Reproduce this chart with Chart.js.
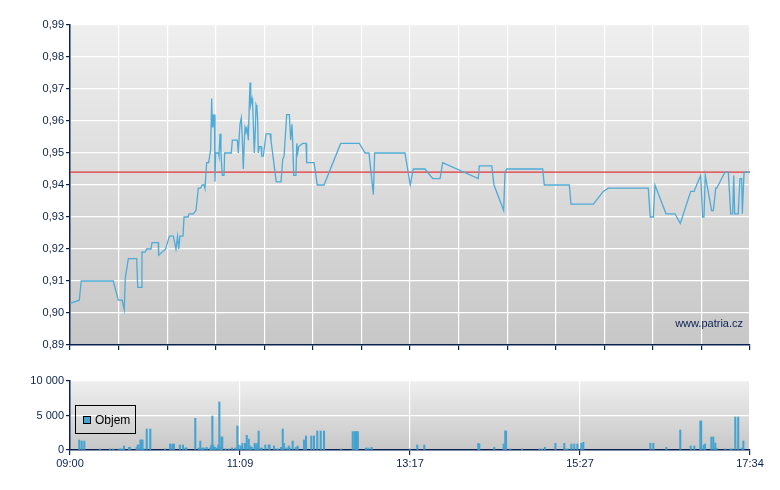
<!DOCTYPE html>
<html>
<head>
<meta charset="utf-8">
<title>Cena a objem</title>
<script src="https://cdn.jsdelivr.net/npm/chart.js@4.4.1/dist/chart.umd.min.js"></script>
<style>
body { margin: 0; background: #fff; }
#wrap { position: relative; width: 780px; height: 490px; }
#priceChart { position: absolute; left: 0; top: 0; }
#volumeChart { position: absolute; left: 0; top: 360px; }
</style>
</head>
<body>
<div id="wrap">
  <canvas id="priceChart" width="780" height="360"></canvas>
  <canvas id="volumeChart" width="780" height="130"></canvas>
</div>
<script>
// session runs 09:00 - 17:34, time is in minutes since 09:00
const sessionEnd = 514;
const prevClose = 0.944;

const priceTimes = [
  0, 7.0, 8.5, 32.7, 36.5, 39.5, 41.0, 41.8, 44.1, 50.4, 51.2, 53.7, 54.4, 56.9, 58.0, 61.2,
  62.0, 66.7, 67.0, 72.3, 75.1, 78.1, 80.1, 81.3, 82.2, 83.1, 85.4, 86.2, 89.2, 90.0, 93.2, 95.2,
  97.0, 98.8, 99.8, 101.3, 102.0, 103.3, 104.8, 106.3, 107.1, 107.6, 108.3, 108.8, 109.2, 109.6, 110.1, 112.1,
  112.6, 113.4, 114.1, 115.1, 116.4, 116.9, 121.9, 122.7, 126.5, 127.2, 128.5, 129.5, 130.2, 131.0, 131.7, 132.3,
  133.0, 133.8, 134.8, 135.5, 136.1, 136.6, 137.6, 138.1, 139.3, 140.1, 140.6, 141.3, 141.9, 142.3, 143.1, 144.4,
  144.9, 146.1, 148.2, 151.2, 151.9, 155.9, 159.5, 160.8, 161.8, 163.8, 165.8, 166.8, 167.8, 168.3, 169.1, 170.8,
  171.4, 172.1, 172.9, 175.9, 178.4, 178.9, 184.4, 185.2, 186.9, 192.0, 204.6, 218.7, 223.0, 226.0, 229.3, 230.3,
  253.2, 257.2, 259.5, 268.3, 274.2, 279.7, 281.7, 308.6, 309.4, 318.8, 320.5, 327.8, 328.8, 330.1, 357.3, 358.5,
  377.4, 378.7, 395.6, 403.1, 406.9, 437.1, 438.6, 440.9, 442.2, 442.9, 450.5, 457.3, 461.3, 469.2, 471.7, 473.7,
  476.7, 478.2, 479.2, 480.2, 485.0, 486.3, 488.1, 488.8, 495.1, 497.6, 499.4, 500.9, 501.7, 502.4, 505.1, 506.4,
  507.7, 508.2, 509.5, 514
];
const prices = [
  0.903, 0.904, 0.910, 0.910, 0.904, 0.904, 0.901, 0.911, 0.917, 0.917, 0.908, 0.908, 0.919, 0.919, 0.920, 0.920,
  0.922, 0.922, 0.918, 0.920, 0.924, 0.924, 0.920, 0.924, 0.920, 0.924, 0.924, 0.930, 0.930, 0.931, 0.931, 0.932,
  0.939, 0.939, 0.940, 0.940, 0.939, 0.947, 0.947, 0.951, 0.967, 0.958, 0.962, 0.958, 0.962, 0.941, 0.950, 0.950,
  0.949, 0.956, 0.950, 0.943, 0.943, 0.950, 0.950, 0.954, 0.954, 0.950, 0.959, 0.961, 0.955, 0.945, 0.953, 0.958,
  0.957, 0.958, 0.954, 0.965, 0.972, 0.965, 0.967, 0.965, 0.950, 0.957, 0.965, 0.964, 0.960, 0.950, 0.952, 0.952,
  0.949, 0.949, 0.956, 0.956, 0.954, 0.941, 0.941, 0.948, 0.949, 0.962, 0.962, 0.954, 0.959, 0.954, 0.943, 0.943,
  0.953, 0.950, 0.952, 0.953, 0.953, 0.947, 0.947, 0.945, 0.940, 0.940, 0.953, 0.953, 0.950, 0.950, 0.937, 0.950,
  0.950, 0.940, 0.945, 0.945, 0.942, 0.942, 0.947, 0.942, 0.946, 0.946, 0.940, 0.932, 0.944, 0.945, 0.945, 0.940,
  0.940, 0.934, 0.934, 0.938, 0.939, 0.939, 0.930, 0.930, 0.940, 0.940, 0.931, 0.931, 0.928, 0.938, 0.938, 0.940,
  0.943, 0.930, 0.930, 0.943, 0.932, 0.932, 0.939, 0.939, 0.944, 0.944, 0.931, 0.931, 0.943, 0.931, 0.931, 0.942,
  0.942, 0.931, 0.944, 0.944
];

const volTimes = [
  7.0, 8.8, 10.8, 22.7, 30.2, 32.7, 37.0, 38.5, 39.5, 40.8, 44.6, 45.2, 50.4, 51.2, 51.8, 53.2,
  54.0, 54.8, 55.8, 58.0, 60.7, 71.8, 75.6, 77.3, 78.6, 83.1, 85.4, 87.3, 88.1, 94.7, 97.4, 98.5,
  99.3, 100.5, 101.3, 103.3, 105.8, 106.8, 107.6, 108.3, 109.6, 110.6, 112.1, 112.9, 113.9, 114.5, 115.1, 117.6,
  120.1, 122.5, 125.0, 126.5, 127.5, 129.3, 130.3, 132.3, 133.6, 135.1, 136.3, 137.4, 139.6, 140.4, 141.6, 142.6,
  143.8, 145.1, 147.6, 150.2, 150.9, 154.2, 156.2, 157.2, 159.5, 160.8, 161.8, 163.8, 165.3, 166.3, 168.3, 170.8,
  172.1, 176.9, 178.4, 182.4, 184.4, 186.9, 189.5, 192.0, 204.8, 213.7, 215.2, 216.0, 216.8, 217.6, 223.7, 225.5,
  228.0, 257.0, 262.5, 267.8, 308.6, 309.4, 320.7, 327.8, 329.0, 329.6, 332.8, 341.6, 354.9, 356.7, 359.0, 366.9,
  373.6, 374.9, 376.1, 379.0, 381.2, 383.5, 386.5, 388.0, 438.7, 440.9, 450.7, 461.3, 469.2, 471.9, 476.5, 477.1,
  479.0, 480.0, 484.8, 486.3, 487.8, 488.8, 495.3, 499.1, 500.4, 502.9, 505.1, 507.7, 509.0
];
const volumes = [
  1450, 1300, 1300, 150, 150, 150, 150, 150, 150, 580, 390, 390, 390, 720, 720, 1450,
  1450, 1450, 150, 3040, 3040, 150, 870, 870, 870, 720, 720, 290, 290, 4590, 290, 1300,
  290, 290, 290, 390, 290, 720, 4930, 720, 390, 290, 720, 6960, 390, 1880, 1880, 150,
  150, 290, 290, 3480, 720, 580, 970, 970, 2130, 1590, 580, 390, 970, 720, 970, 2750,
  290, 290, 720, 720, 720, 580, 150, 150, 390, 3040, 970, 290, 580, 290, 1300, 390,
  580, 1450, 2030, 2030, 2030, 2750, 2750, 2750, 150, 2660, 2660, 2660, 2660, 2660, 290, 290,
  390, 150, 720, 720, 970, 870, 390, 870, 2750, 2750, 150, 150, 150, 150, 390, 970,
  970, 150, 150, 870, 870, 870, 970, 1110, 970, 970, 390, 2900, 580, 580, 4200, 4200,
  720, 870, 1880, 1880, 1010, 240, 150, 150, 150, 4780, 4780, 290, 1300
];

// time axis labels under the volume chart
const timeLabels = ['09:00', '11:09', '13:17', '15:27', '17:34'];

const navy = '#0b2250';
const lineBlue = '#4eaad6';
const barBlue = '#44a3d0';
const tickFont = { family: '"Liberation Sans", Arial, sans-serif', size: 11 };

// grey gradient behind the plot area
const plotBackground = {
    id: 'plotBackground',
    beforeDraw(chart) {
        const { ctx, chartArea: a } = chart;
        const g = ctx.createLinearGradient(0, a.top, 0, a.bottom);
        g.addColorStop(0, '#efefef');
        g.addColorStop(1, '#c7c7c7');
        ctx.save();
        ctx.fillStyle = g;
        ctx.fillRect(a.left, a.top, a.right - a.left, a.bottom - a.top);
        ctx.restore();
    }
};

const watermark = {
    id: 'watermark',
    afterDraw(chart) {
        const { ctx, chartArea: a } = chart;
        ctx.save();
        ctx.font = '11px "Liberation Sans", Arial, sans-serif';
        ctx.fillStyle = navy;
        ctx.textAlign = 'right';
        ctx.textBaseline = 'alphabetic';
        ctx.fillText('www.patria.cz', a.right - 7, a.bottom - 18);
        ctx.restore();
    }
};

// small boxed legend inside the volume plot
const legendBox = {
    id: 'legendBox',
    afterDraw(chart) {
        const { ctx, chartArea: a } = chart;
        const ds = chart.data.datasets[0];
        const x = a.left + 5, y = a.top + 24;
        ctx.save();
        ctx.strokeStyle = '#000';
        ctx.lineWidth = 1;
        ctx.strokeRect(x + 0.5, y + 0.5, 60, 28);
        ctx.fillStyle = ds.backgroundColor;
        ctx.fillRect(x + 8, y + 11, 7, 7);
        ctx.strokeRect(x + 8.5, y + 11.5, 7, 7);
        ctx.fillStyle = '#000';
        ctx.font = '12px "Liberation Sans", Arial, sans-serif';
        ctx.textBaseline = 'middle';
        ctx.fillText(ds.label, x + 20, y + 15.5);
        ctx.restore();
    }
};

const priceChart = new Chart(document.getElementById('priceChart'), {
    type: 'line',
    data: {
        datasets: [
            {
                label: 'Cena',
                data: priceTimes.map((t, i) => ({ x: t, y: prices[i] })),
                borderColor: lineBlue,
                borderWidth: 1.3,
                pointRadius: 0,
                tension: 0
            },
            {
                label: 'Předchozí závěr',
                data: [{ x: 0, y: prevClose }, { x: sessionEnd, y: prevClose }],
                borderColor: '#e2363a',
                borderWidth: 1.3,
                pointRadius: 0
            }
        ]
    },
    options: {
        responsive: false,
        animation: false,
        layout: { padding: { top: 25, right: 30, left: 0, bottom: 0 } },
        plugins: { legend: { display: false }, tooltip: { enabled: false } },
        scales: {
            x: {
                type: 'linear',
                min: 0,
                max: sessionEnd,
                afterBuildTicks: s => {
                    s.ticks = [];
                    for (let i = 0; i <= 14; i++) s.ticks.push({ value: i * sessionEnd / 14 });
                },
                ticks: { display: false },
                grid: { color: '#ffffff', lineWidth: 1.2, tickColor: navy, tickLength: 5 },
                border: { color: navy, width: 1.5 },
                afterFit: s => { s.height = 15; }
            },
            y: {
                min: 0.89,
                max: 0.99,
                ticks: {
                    stepSize: 0.01,
                    color: navy,
                    font: tickFont,
                    padding: 2,
                    callback: v => v.toFixed(2).replace('.', ',')
                },
                grid: { color: '#ffffff', lineWidth: 1.2, tickColor: navy, tickLength: 4 },
                border: { color: navy, width: 1.5 },
                afterFit: s => { s.width = 70; }
            }
        }
    },
    plugins: [plotBackground, watermark]
});

const volumeChart = new Chart(document.getElementById('volumeChart'), {
    type: 'bar',
    data: {
        datasets: [
            {
                label: 'Objem',
                data: volTimes.map((t, i) => ({ x: t, y: volumes[i] })),
                backgroundColor: barBlue,
                barThickness: 1.4
            }
        ]
    },
    options: {
        responsive: false,
        animation: false,
        layout: { padding: { top: 21, right: 30, left: 0, bottom: 0 } },
        plugins: { legend: { display: false }, tooltip: { enabled: false } },
        scales: {
            x: {
                type: 'linear',
                min: 0,
                max: sessionEnd,
                offset: false,
                afterBuildTicks: s => {
                    s.ticks = timeLabels.map((l, i) => ({ value: i * sessionEnd / (timeLabels.length - 1) }));
                },
                ticks: {
                    color: navy,
                    font: tickFont,
                    padding: 2,
                    maxRotation: 0,
                    autoSkip: false,
                    callback: (v, i) => timeLabels[i]
                },
                grid: { color: '#ffffff', lineWidth: 1.2, tickColor: navy, tickLength: 5, offset: false },
                border: { color: navy, width: 1.5 },
                afterFit: s => { s.height = 40; }
            },
            y: {
                min: 0,
                max: 10000,
                ticks: {
                    stepSize: 5000,
                    color: navy,
                    font: tickFont,
                    padding: 2,
                    callback: v => String(v).replace(/\B(?=(\d{3})+(?!\d))/g, ' ')
                },
                grid: { color: '#ffffff', lineWidth: 1.2, tickColor: navy, tickLength: 4 },
                border: { color: navy, width: 1.5 },
                afterFit: s => { s.width = 70; }
            }
        }
    },
    plugins: [plotBackground, legendBox]
});
</script>
</body>
</html>
